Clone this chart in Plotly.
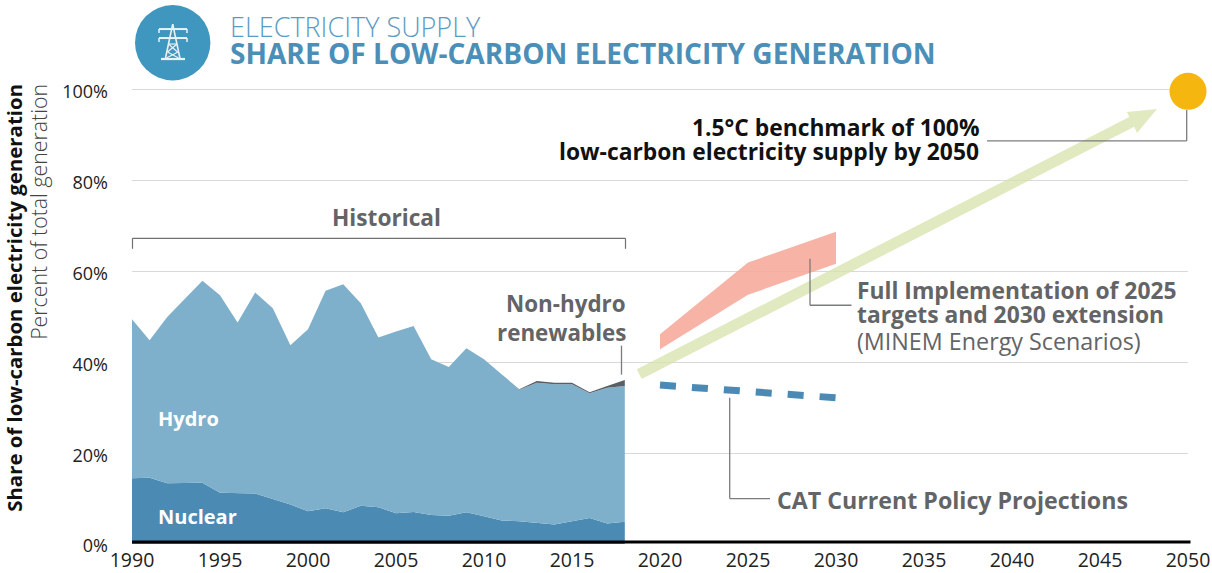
import plotly.graph_objects as go

W, H = 1212, 573
L, R, T, B = 132, 1188, 70, 544.5
PX_PER_PCT = 4.545

years_hist = list(range(1990, 2019))
nuclear = [14.5, 14.6, 13.4, 13.5, 13.5, 11.3, 11.2, 11.1, 9.9, 8.7, 7.2, 7.9, 7.0, 8.4, 8.1,
           6.8, 7.05, 6.4, 6.2, 7.0, 6.1, 5.2, 5.0, 4.7, 4.3, 5.0, 5.7, 4.5, 4.9]
hydro_top = [49.5, 44.9, 50.0, 54.0, 58.0, 54.8, 48.8, 55.4, 51.9, 43.8, 47.3, 55.8, 57.2, 53.0, 45.5,
             46.8, 48.0, 40.7, 39.0, 43.1, 40.7, 37.4, 34.0, 35.5, 35.2, 35.2, 33.2, 34.4, 34.8]
total_top = [49.5, 44.9, 50.0, 54.0, 58.0, 54.8, 48.8, 55.4, 51.9, 43.8, 47.3, 55.8, 57.2, 53.0, 45.5,
             46.8, 48.0, 40.7, 39.0, 43.1, 40.7, 37.4, 34.1, 35.9, 35.5, 35.5, 33.4, 34.8, 36.1]

years_target = [2020, 2025, 2030]
target_high = [46.2, 62.0, 68.8]
target_low = [42.9, 54.9, 61.7]

years_cpp = [2020, 2030]
cpp = [35.0, 32.2]

arrow_x = [2018.68, 2046.66, 2046.53, 2048.24, 2047.10, 2046.94, 2018.96]
arrow_y = [38.48, 94.05, 95.15, 95.81, 90.53, 91.89, 36.34]

benchmark_x = [2050]
benchmark_y = [99.7]

y_ticks = [0, 20, 40, 60, 80, 100]
x_ticks = list(range(1990, 2051, 5))

BLUE_TITLE = "#4b8fb8"
GREY_TEXT = "#636466"
LEADER = "#7a7c7e"
FONT = "Open Sans"


def px(x):
    return (x - L) / (R - L)


def py(y):
    return (B - y) / (B - T)


fig = go.Figure()
fig.add_trace(go.Scatter(x=years_hist, y=nuclear, mode="lines", line=dict(width=0), fill="tozeroy",
                         fillcolor="#4a8ab3", name="Nuclear"))
fig.add_trace(go.Scatter(x=years_hist, y=hydro_top, mode="lines", line=dict(width=0), fill="tonexty",
                         fillcolor="#7fb0cb", name="Hydro"))
fig.add_trace(go.Scatter(x=years_hist, y=total_top, mode="lines", line=dict(width=0), fill="tonexty",
                         fillcolor="#5a5f63", name="Non-hydro renewables"))
fig.add_trace(go.Scatter(x=arrow_x, y=arrow_y, mode="lines", line=dict(width=0), fill="toself",
                         fillcolor="rgba(213,225,170,0.75)", name="1.5C pathway"))
fig.add_trace(go.Scatter(x=years_target + years_target[::-1], y=target_high + target_low[::-1], mode="lines",
                         line=dict(width=0), fill="toself", fillcolor="rgba(246,168,152,0.88)",
                         name="Full Implementation"))
fig.add_trace(go.Scatter(x=years_cpp, y=cpp, mode="lines", line=dict(color="#4a8ab5", width=7, dash="16px,16px"),
                         name="CAT Current Policy Projections"))
fig.add_trace(go.Scatter(x=benchmark_x, y=benchmark_y, mode="markers", cliponaxis=False,
                         marker=dict(size=37, color="#f5b70f", line=dict(width=0)), name="Benchmark"))

shapes = []


def line(pts, color=LEADER, width=1.3):
    for (x0, y0), (x1, y1) in zip(pts, pts[1:]):
        shapes.append(dict(type="line", xref="paper", yref="paper", x0=px(x0), x1=px(x1), y0=py(y0), y1=py(y1),
                           line=dict(color=color, width=width), layer="above"))


# baseline
line([(132, 542.5), (1190.5, 542.5)], "#000000", 3)

# header badge
shapes.append(dict(type="circle", xref="paper", yref="paper", x0=px(135), x1=px(210.4), y0=py(5), y1=py(80.4),
                   fillcolor="#3f97bf", line=dict(width=0), layer="above"))
W_ = "#e8f2f6"
line([(172.7, 24), (165.5, 58)], W_, 1.6)
line([(172.7, 24), (179.9, 58)], W_, 1.6)
line([(161, 59), (185, 59)], W_, 2.2)
line([(159, 29), (187, 29)], W_, 2)
line([(159, 38), (187, 38)], W_, 2)
line([(159, 29), (159, 33)], W_, 1.5)
line([(187, 29), (187, 33)], W_, 1.5)
line([(159, 38), (159, 42)], W_, 1.5)
line([(187, 38), (187, 42)], W_, 1.5)
line([(168.5, 44), (177, 44)], W_, 1.2)
line([(168.5, 44), (177.5, 52)], W_, 1.2)
line([(177, 44), (167.5, 52)], W_, 1.2)
line([(167.5, 52), (178.5, 58)], W_, 1.2)
line([(178, 52), (166.5, 58)], W_, 1.2)

# bracket + leaders
line([(132.5, 249), (132.5, 238.5), (625.5, 238.5), (625.5, 249)], "#6f7173", 1.2)
line([(621.5, 346), (621.5, 375)])
line([(810, 259), (810, 305.5), (851.5, 305.5)])
line([(729.7, 398), (729.7, 499), (770, 499)])
line([(987, 141), (1186.7, 141), (1186.7, 110)])

annotations = []


def text(x, y, s, size, color, anchor="left", weight=400, angle=0):
    annotations.append(dict(xref="paper", yref="paper", x=px(x), y=py(y), text=s, showarrow=False, xanchor=anchor,
                            yanchor="middle", textangle=angle, align=anchor if anchor != "center" else "center",
                            borderpad=0, borderwidth=0,
                            font=dict(family=FONT, size=size, color=color, weight=weight)))


text(230, 26, "ELECTRICITY SUPPLY", 27, "#5b9bc2", weight=300)
text(230, 53, "SHARE OF LOW-CARBON ELECTRICITY GENERATION", 28.1, BLUE_TITLE, weight=700)
text(386, 218, "Historical", 22.7, GREY_TEXT, "center", 700)
text(979, 128, "1.5°C benchmark of 100%", 22.8, "#111111", "right", 700)
text(979, 152, "low-carbon electricity supply by 2050", 22.8, "#111111", "right", 700)
text(857, 291, "Full Implementation of 2025", 22.8, GREY_TEXT, "left", 700)
text(857, 315, "targets and 2030 extension", 22.8, GREY_TEXT, "left", 700)
text(857, 341, "(MINEM Energy Scenarios)", 23.3, GREY_TEXT, "left", 400)
text(777, 500, "CAT Current Policy Projections", 23.2, GREY_TEXT, "left", 700)
text(626, 304, "Non-hydro", 22.4, GREY_TEXT, "right", 700)
text(626, 333, "renewables", 22.4, GREY_TEXT, "right", 700)
text(158, 419, "Hydro", 20, "#ffffff", "left", 700)
text(158, 517, "Nuclear", 20, "#ffffff", "left", 700)
text(14, 298, "Share of low-carbon electricity generation", 20.4, "#111111", "center", 700, -90)
text(39, 212, "Percent of total generation", 21.3, "#444444", "center", 300, -90)

fig.update_layout(
    width=W, height=H, margin=dict(l=L, r=W - R, t=T, b=H - B, autoexpand=False), paper_bgcolor="white",
    plot_bgcolor="white", showlegend=False, hovermode=False, shapes=shapes, annotations=annotations,
    font=dict(family=FONT, color="#222222"),
    xaxis=dict(range=[1990, 2050], tickvals=x_ticks, showgrid=False, zeroline=False, showline=False,
               ticks="", tickfont=dict(size=19.5, family=FONT, color="#222222"), ticklabelstandoff=2),
    yaxis=dict(range=[0, (B - T) / PX_PER_PCT], tickvals=y_ticks, ticktext=[f"{v}%" for v in y_ticks], showgrid=True,
               gridcolor="#d9d9d9", gridwidth=1, zeroline=False, showline=False, ticks="",
               tickfont=dict(size=18, family=FONT, color="#222222"), ticklabelstandoff=23, ticklabelshift=2),
)

fig.write_html("out.html", config=dict(displayModeBar=False), post_script="document.body.style.margin='0';")
